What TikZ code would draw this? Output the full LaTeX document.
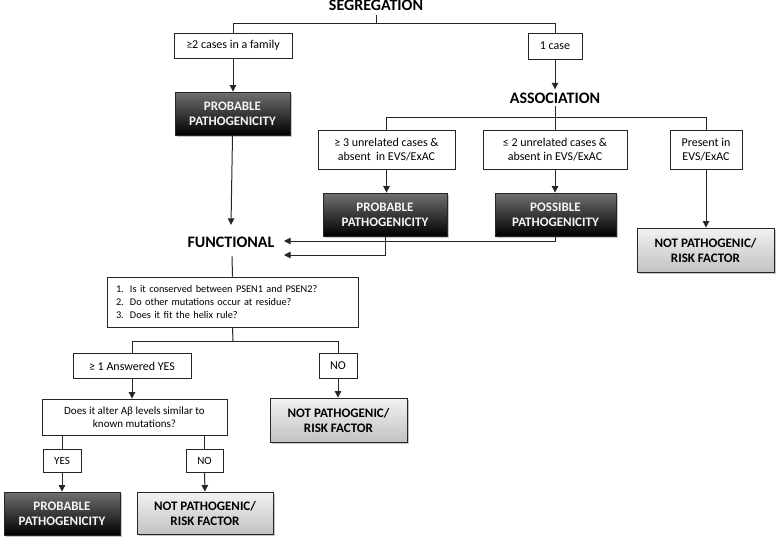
\documentclass[tikz,border=0pt]{standalone}
\usepackage{fontspec}
\setmainfont{Carlito}
\usetikzlibrary{arrows.meta,shadows}
\begin{document}
\begin{tikzpicture}[x=1pt,y=-1pt,
  ln/.style={line width=1pt,draw=black!85},
  arr/.style={ln,-{Triangle[width=6.5pt,length=6.5pt]}},
  head/.style={font=\bfseries\fontsize{16}{18}\selectfont,inner sep=0pt,anchor=base},
  wbox/.style={draw=black!85,line width=0.9pt,fill=white,align=center,inner sep=0pt,
     font=\fontsize{12}{13.5}\selectfont},
  darkbox/.style={draw=black!85,line width=0.9pt,top color=black!56,bottom color=black,
     text=black!4,align=center,inner sep=0pt,font=\bfseries\fontsize{13}{15}\selectfont,
     drop shadow={shadow xshift=1.6pt,shadow yshift=-1.6pt,opacity=0.45}},
  lightbox/.style={draw=black!85,line width=0.9pt,top color=black!5,bottom color=black!24,
     text=black,align=center,inner sep=0pt,font=\bfseries\fontsize{13}{15}\selectfont,
     drop shadow={shadow xshift=1.6pt,shadow yshift=-1.6pt,opacity=0.45}}]
\path[use as bounding box] (0,0) rectangle (778,541);

% headings
\node[head] (seg) at (376,10) {SEGREGATION};
\node[head] (assoc) at (555,103) {ASSOCIATION};
\node[head] (func) at (231,247) {FUNCTIONAL};

% top level
\node[wbox,minimum width=118pt,minimum height=25pt] (b2) at (233,45.5) {≥2 cases in a family};
\node[wbox,minimum width=54pt,minimum height=26pt] (b1) at (555,46) {1 case};
\node[darkbox,minimum width=115pt,minimum height=43pt] (prob1) at (232.5,113.5) {PROBABLE\\PATHOGENICITY};

% association level
\node[wbox,minimum width=137pt,minimum height=39pt] (u3) at (386.5,149.5) {≥ 3 unrelated cases \&\\absent\ \ in EVS/ExAC};
\node[wbox,minimum width=144pt,minimum height=39pt] (u2) at (555,149.5) {≤ 2 unrelated cases \&\\absent in EVS/ExAC};
\node[wbox,minimum width=72pt,minimum height=39pt] (pres) at (706,149.5) {Present in\\EVS/ExAC};
\node[darkbox,minimum width=124pt,minimum height=43pt] (prob2) at (385,214.5) {PROBABLE\\PATHOGENICITY};
\node[darkbox,minimum width=121pt,minimum height=43pt] (poss) at (555.5,214.5) {POSSIBLE\\PATHOGENICITY};
\node[lightbox,minimum width=137pt,minimum height=44pt] (notp1) at (705.5,250) {NOT PATHOGENIC/\\RISK FACTOR};

% functional level
\node[wbox,minimum width=251pt,minimum height=50pt,align=left,text width=233pt,inner xsep=9pt,
      font=\fontsize{10.3}{12.8}\selectfont] (q) at (232.5,302)
  {\makebox[14pt][l]{1.}Is it conserved between PSEN1 and PSEN2?\\
   \makebox[14pt][l]{2.}Do other mutations occur at residue?\\
   \makebox[14pt][l]{3.}Does it fit the helix rule?};
\node[wbox,minimum width=118pt,minimum height=25pt] (yes1) at (132,366) {≥ 1 Answered YES};
\node[wbox,minimum width=38pt,minimum height=25pt] (no1) at (338,366) {NO};
\node[wbox,minimum width=185pt,minimum height=36pt,font=\fontsize{11}{13}\selectfont] (alter) at (134.5,417)
  {Does it alter Aβ levels similar to\\known mutations?};
\node[lightbox,minimum width=137pt,minimum height=44pt] (notp2) at (338.5,420) {NOT PATHOGENIC/\\RISK FACTOR};
\node[wbox,minimum width=38pt,minimum height=23pt,font=\fontsize{11}{12}\selectfont] (yes2) at (62,460.5) {YES};
\node[wbox,minimum width=37pt,minimum height=23pt,font=\fontsize{11}{12}\selectfont] (no2) at (204.5,460.5) {NO};
\node[darkbox,minimum width=116pt,minimum height=43pt] (prob3) at (62,513.5) {PROBABLE\\PATHOGENICITY};
\node[lightbox,minimum width=136pt,minimum height=42pt] (notp3) at (205,513) {NOT PATHOGENIC/\\RISK FACTOR};

% junction coordinates
\coordinate (j1) at (375,23);
\coordinate (j2) at (555,117);
\coordinate (j3) at (233,341);
\coordinate (fa1) at (284,241);
\coordinate (fa2) at (284,255);

% connectors: segregation
\draw[ln] ([yshift=-5pt]seg.south) -- (seg.south |- j1);
\draw[ln] (b2.north) -- (b2.north |- j1) -- (b1.north |- j1) -- (b1.north);
\draw[arr] (b2.south) -- (b2.south |- prob1.north);
\draw[arr] (b1.south) -- ([yshift=3pt]assoc.north);

% association
\draw[ln] ([yshift=-2.5pt]assoc.south) -- (j2);
\draw[ln] (u3.north) -- (u3.north |- j2) -- (pres.north |- j2) -- (pres.north);
\draw[ln] (u2.north) -- (u2.north |- j2);
\draw[arr] (u3.south) -- (u3.south |- prob2.north);
\draw[arr] (u2.south) -- (u2.south |- poss.north);
\draw[arr] (pres.south) -- (pres.south |- notp1.north);

% to functional
\draw[arr] (prob1.south) -- ([yshift=11.5pt]func.north);
\draw[arr] (poss.south) |- (fa1);
\draw[arr] (prob2.south) |- (fa2);
\draw[ln] ([xshift=1pt,yshift=-9pt]func.south) -- (q.north);

% questions
\draw[ln] (q.south) -- (j3);
\draw[ln] (yes1.north) -- (yes1.north |- j3) -- (no1.north |- j3) -- (no1.north);
\draw[arr] (yes1.south) -- (yes1.south |- alter.north);
\draw[arr] (no1.south) -- (no1.south |- notp2.north);

% alter
\draw[ln] (yes2.north |- alter.south) -- (yes2.north);
\draw[ln] (no2.north |- alter.south) -- (no2.north);
\draw[arr] (yes2.south) -- (prob3.north);
\draw[arr] (no2.south) -- (notp3.north);
\end{tikzpicture}
\end{document}
